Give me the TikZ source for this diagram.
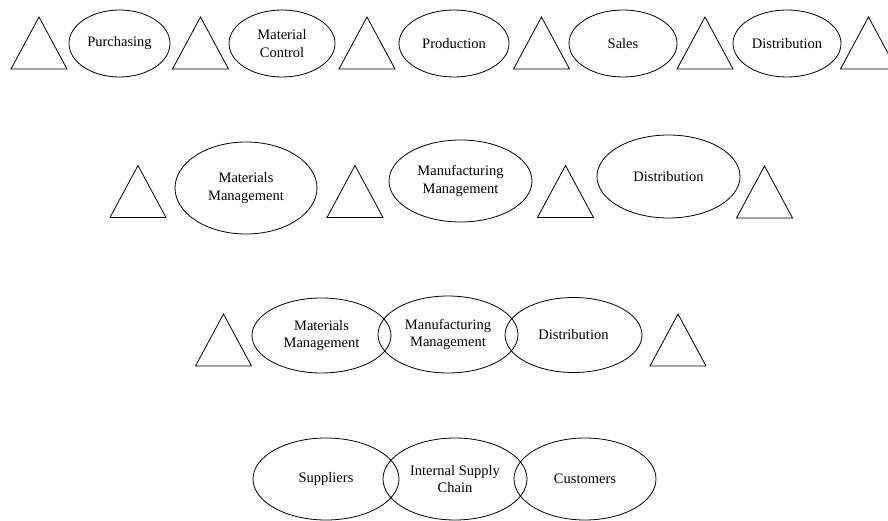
\documentclass[tikz,border=0pt]{standalone}
\usepackage{fontspec}
\setmainfont{Liberation Serif}
\usetikzlibrary{shapes.geometric}

\begin{document}
\begin{tikzpicture}[x=1pt, y=-1pt,
  every path/.style={line width=0.8pt},
  stage/.style={draw, ellipse, inner sep=0pt, align=center,
    font=\fontsize{14.5}{17.5}\selectfont},
  tri/.pic={\draw (-28,0) -- (0,-52) -- (28,0) -- cycle;}]
  \useasboundingbox (0,0) rectangle (888,521);

  % functional silos
  \pic at (39,69)    {tri};
  \pic at (200.5,69) {tri};
  \pic at (367,69)   {tri};
  \pic at (541.5,69) {tri};
  \pic at (705,69)   {tri};
  \pic at (868.5,69) {tri};
  \node[stage, minimum width=101pt, minimum height=67pt] (pur) at (119.5,43.5) {Purchasing};
  \node[stage, minimum width=106pt, minimum height=67pt] (mc)  at (282,43.5)   {Material\\Control};
  \node[stage, minimum width=110pt, minimum height=67pt] (pro) at (454,43.5)   {Production};
  \node[stage, minimum width=108pt, minimum height=67pt] (sal) at (623,43.5)   {Sales};
  \node[stage, minimum width=108pt, minimum height=67pt] (dis) at (787,43.5)   {Distribution};

  % grouped functions
  \pic at (138,217.5)   {tri};
  \pic at (355,217.5)   {tri};
  \pic at (565.5,217.5) {tri};
  \pic at (764.5,218)   {tri};
  \node[stage, minimum width=142pt, minimum height=92pt] (mm2) at (246,188)   {Materials\\Management};
  \node[stage, minimum width=143pt, minimum height=82pt] (fm2) at (460.5,181) {Manufacturing\\Management};
  \node[stage, minimum width=143pt, minimum height=83pt] (ds2) at (668.5,176.5) {Distribution};

  % integrated internal chain
  \pic at (223.5,366) {tri};
  \pic at (678,366)   {tri};
  \node[stage, minimum width=139pt, minimum height=75pt] (mm3) at (321.5,335.5) {Materials\\Management};
  \node[stage, minimum width=140pt, minimum height=77pt] (fm3) at (448,334.5)   {Manufacturing\\Management};
  \node[stage, minimum width=137pt, minimum height=75pt] (ds3) at (573.5,335)   {Distribution};

  % extended supply chain
  \node[stage, minimum width=146pt, minimum height=82pt] (sup) at (326,479)   {Suppliers};
  \node[stage, minimum width=144pt, minimum height=82pt] (isc) at (455,479)   {Internal Supply\\Chain};
  \node[stage, minimum width=142pt, minimum height=82pt] (cus) at (585,479)   {Customers};
\end{tikzpicture}
\end{document}
